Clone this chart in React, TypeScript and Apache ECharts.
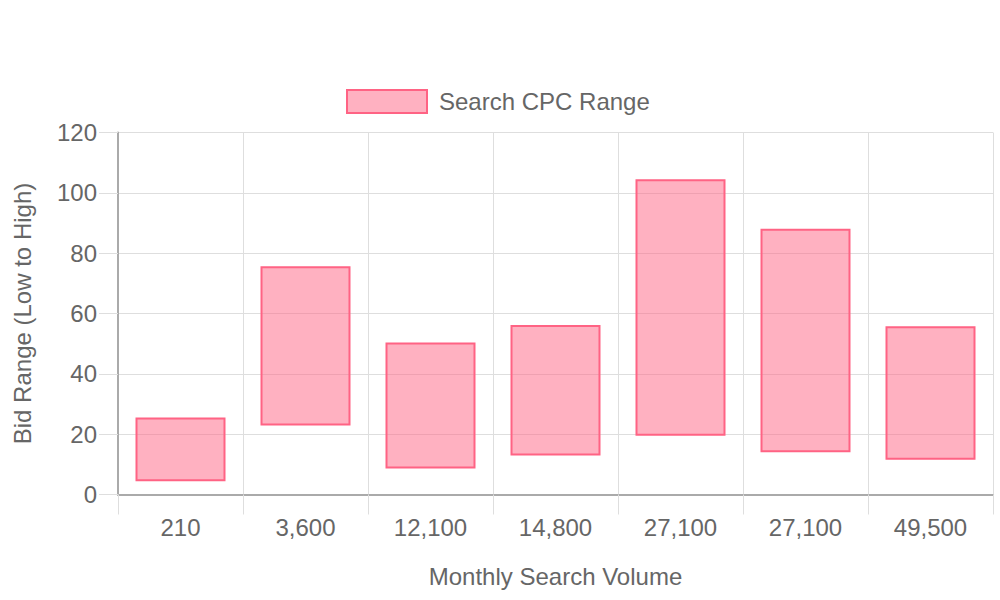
import React, { useEffect, useRef } from "react";
import * as echarts from "echarts";

const categories = ["210", "3,600", "12,100", "14,800", "27,100", "27,100", "49,500"];
const lowValues = [4.4, 22.9, 8.6, 12.9, 19.5, 14.0, 11.5];
const highValues = [25.5, 75.7, 50.4, 56.2, 104.5, 88.1, 55.8];
const seriesName = "Search CPC Range";

const FILL = "rgba(255, 99, 132, 0.5)";
const STROKE = "rgb(255, 99, 132)";
const FONT = "'Liberation Sans', Arial, Helvetica, sans-serif";
const TEXT = "#666666";
const GRID = "#dedede";
const AXIS = "#aaaaaa";

export default function App() {
  const ref = useRef<HTMLDivElement>(null);
  useEffect(() => {
    if (!ref.current) return;
    const chart = echarts.init(ref.current, null, { renderer: "svg" });
    const data = categories.map((_, i) => [i, lowValues[i], highValues[i]]);
    chart.setOption({
      animation: false,
      textStyle: { fontFamily: FONT },
      legend: {
        left: 346,
        top: 89,
        padding: 0,
        itemWidth: 80,
        itemHeight: 23,
        data: [
          {
            name: seriesName,
            icon: "rect",
            itemStyle: { color: FILL, borderColor: STROKE, borderWidth: 2 },
          },
        ],
        textStyle: { color: TEXT, fontSize: 24, fontFamily: FONT, padding: [0, 0, 0, 7] },
      },
      grid: { left: 118, right: 7, top: 132.5, height: 362, containLabel: false },
      xAxis: {
        type: "category",
        data: categories,
        boundaryGap: true,
        name: "Monthly Search Volume",
        nameLocation: "middle",
        nameGap: 70,
        nameTextStyle: { color: TEXT, fontSize: 24, fontFamily: FONT },
        axisLine: { show: true, lineStyle: { color: AXIS, width: 2 } },
        axisTick: { show: true, length: 20, lineStyle: { color: GRID } },
        axisLabel: { color: TEXT, fontSize: 24, fontFamily: FONT, margin: 21, interval: 0 },
        splitLine: { show: true, lineStyle: { color: GRID, width: 1 } },
      },
      yAxis: {
        type: "value",
        min: 0,
        max: 120,
        interval: 20,
        name: "Bid Range (Low to High)",
        nameLocation: "middle",
        nameGap: 84,
        nameTextStyle: { color: TEXT, fontSize: 24, fontFamily: FONT },
        axisLine: { show: true, lineStyle: { color: AXIS, width: 2 } },
        axisTick: { show: true, length: 19, lineStyle: { color: GRID } },
        axisLabel: { color: TEXT, fontSize: 24, fontFamily: FONT, margin: 21 },
        splitLine: { show: true, lineStyle: { color: GRID, width: 1 } },
      },
      series: [
        {
          name: seriesName,
          type: "custom",
          data,
          encode: { x: 0, y: [1, 2] },
          itemStyle: { color: FILL, borderColor: STROKE, borderWidth: 2 },
          renderItem: (params: any, api: any) => {
            const idx = api.value(0);
            const low = api.value(1);
            const high = api.value(2);
            const pTop = api.coord([idx, high]);
            const pBot = api.coord([idx, low]);
            const w = api.size([1, 0])[0] * 0.72;
            return {
              type: "rect",
              shape: {
                x: pTop[0] - w / 2 + 1,
                y: pTop[1] + 1,
                width: w - 2,
                height: pBot[1] - pTop[1] - 2,
              },
              style: { fill: FILL, stroke: STROKE, lineWidth: 2 },
            };
          },
        },
      ],
    });
    return () => chart.dispose();
  }, []);
  return (
    <div
      ref={ref}
      style={{ position: "fixed", left: 0, top: 0, width: 1000, height: 600, background: "#fff" }}
    />
  );
}
